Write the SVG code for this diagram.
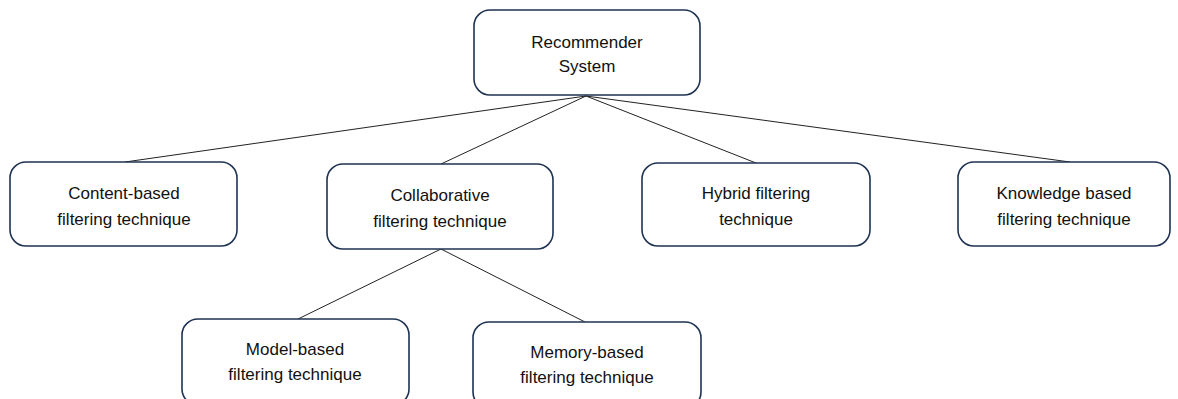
<svg xmlns="http://www.w3.org/2000/svg" width="1178" height="399" viewBox="0 0 1178 399">
<style>
.box{fill:#fff;stroke:#1f3252;stroke-width:1.6}
.t{font-family:"Liberation Sans",Arial,sans-serif;font-size:17px;fill:#111;text-anchor:middle}
.c{stroke:#222;stroke-width:1;fill:none}
</style>
<rect width="1178" height="399" fill="#fff"/>
<g id="connectors">
<line class="c" x1="586" y1="96" x2="125" y2="162"/>
<line class="c" x1="586" y1="96" x2="441" y2="164"/>
<line class="c" x1="586" y1="96" x2="756" y2="163"/>
<line class="c" x1="586" y1="96" x2="1070" y2="162"/>
<line class="c" x1="441" y1="249" x2="298" y2="319"/>
<line class="c" x1="441" y1="249" x2="585" y2="322"/>
</g>
<g id="root">
<rect class="box" x="474" y="10" width="226" height="85" rx="16"/>
<text class="t" x="587" y="48">Recommender</text>
<text class="t" x="587" y="72">System</text>
</g>
<g id="content">
<rect class="box" x="10" y="162" width="227" height="84" rx="16"/>
<text class="t" x="124" y="199">Content-based</text>
<text class="t" x="124" y="225">filtering technique</text>
</g>
<g id="collab">
<rect class="box" x="327" y="164" width="226" height="85" rx="16"/>
<text class="t" x="440" y="201">Collaborative</text>
<text class="t" x="440" y="227">filtering technique</text>
</g>
<g id="hybrid">
<rect class="box" x="642" y="163" width="228" height="83" rx="16"/>
<text class="t" x="756" y="199">Hybrid filtering</text>
<text class="t" x="756" y="225">technique</text>
</g>
<g id="knowledge">
<rect class="box" x="958" y="162" width="212" height="84" rx="16"/>
<text class="t" x="1064" y="199">Knowledge based</text>
<text class="t" x="1064" y="225">filtering technique</text>
</g>
<g id="model">
<rect class="box" x="182" y="319" width="227" height="86" rx="16"/>
<text class="t" x="295" y="355">Model-based</text>
<text class="t" x="295" y="380">filtering technique</text>
</g>
<g id="memory">
<rect class="box" x="473" y="322" width="228" height="86" rx="16"/>
<text class="t" x="587" y="358">Memory-based</text>
<text class="t" x="587" y="383">filtering technique</text>
</g>
</svg>
